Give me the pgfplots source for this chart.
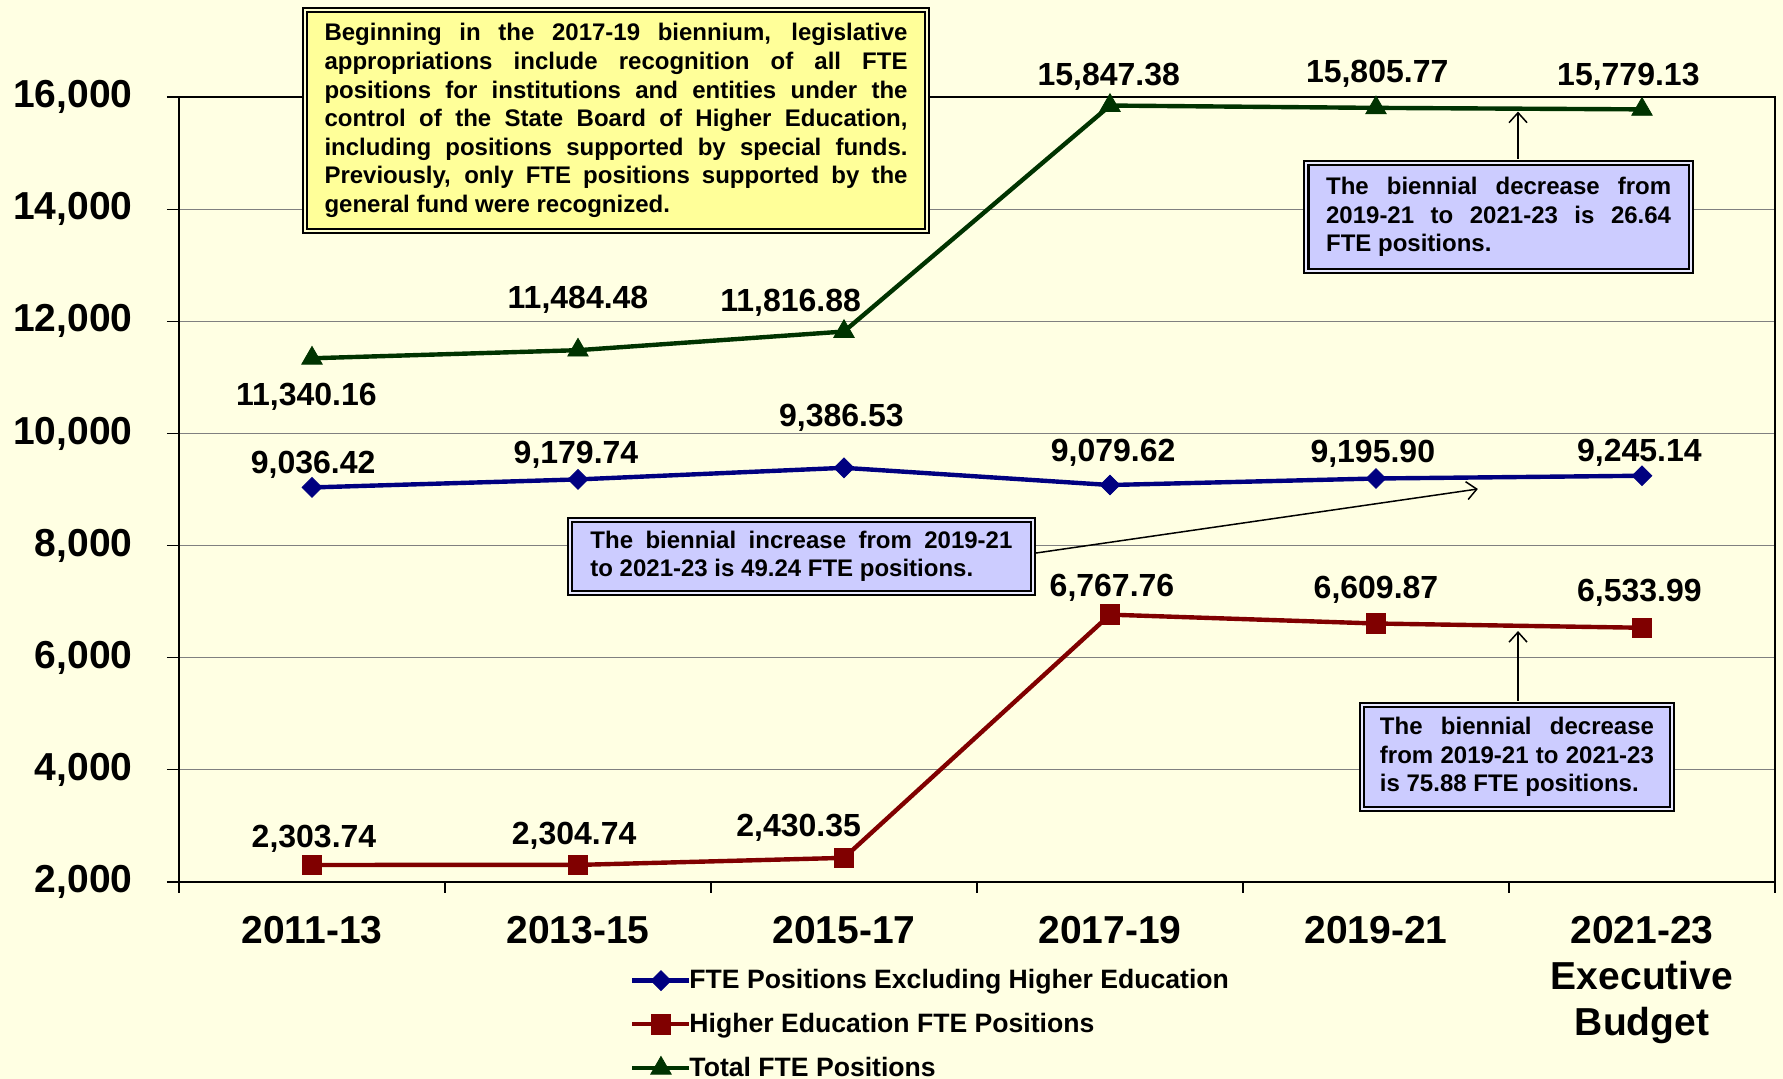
\documentclass[border=0pt]{standalone}
\usepackage{pgfplots}
\pgfplotsset{compat=1.18}
\usepackage{pgfplotstable}
\usepackage{fontspec}
\setmainfont{Liberation Sans}
\usetikzlibrary{arrows.meta}
\definecolor{bg}{HTML}{FFFFE3}
\definecolor{navyc}{HTML}{000080}
\definecolor{maroonc}{HTML}{800000}
\definecolor{greenc}{HTML}{003300}
\definecolor{yellowbox}{HTML}{FFFF99}
\definecolor{lilac}{HTML}{CCCCFF}

\pgfplotstableread{
x y lab dx dy
0 9036.42 9,036.42 0.6 11.4
1 9179.74 9,179.74 -1.0 12.5
2 9386.53 9,386.53 -1.3 25
3 9079.62 9,079.62 1.6 16
4 9195.90 9,195.90 -1.6 12.5
5 9245.14 9,245.14 -1.3 11.4
}\excl
\pgfplotstableread{
x y lab dx dy
0 2303.74 2,303.74 1.0 13
1 2304.74 2,304.74 -1.9 14.8
2 2430.35 2,430.35 -22.7 14.8
3 6767.76 6,767.76 1.0 13.6
4 6609.87 6,609.87 0 17
5 6533.99 6,533.99 -1.3 17.6
}\higher
\pgfplotstableread{
x y lab dx dy
0 11340.16 11,340.16 -2.8 -19.3
1 11484.48 11,484.48 0 25
2 11816.88 11,816.88 -26.7 14.2
3 15847.38 15,847.38 -0.6 14.2
4 15805.77 15,805.77 0.6 17
5 15779.13 15,779.13 -6.8 16.5
}\total

\tikzset{
  dbox/.style={draw=black, line width=1.1pt, double=white!55!#1, double distance=1pt,
    fill=#1, font=\bfseries\fontsize{12}{14.3}\selectfont, align=justify, inner ysep=0pt},
  labstyle/.style={anchor=center, font=\bfseries\fontsize{16}{19}\selectfont, text=black}
}

\begin{document}
\begin{tikzpicture}
\fill[bg] (-89.5pt,-98.5pt) rectangle (802pt,441pt);
\begin{axis}[
  at={(0,0)}, anchor=south west,
  scale only axis, width=798pt, height=392.5pt,
  xmin=-0.5, xmax=5.5, ymin=2000, ymax=16000,
  axis line style={black, line width=1pt},
  xtick={0,...,5},
  xticklabels={2011-13,2013-15,2015-17,2017-19,2019-21,{2021-23\\Executive\\Budget}},
  minor xtick={-0.5,0.5,...,5.5},
  major x tick style={draw=none},
  minor x tick style={black, line width=0.6pt},
  minor tick length=5.5pt,
  ytick={2000,4000,...,16000},
  scaled y ticks=false,
  major tick length=6pt,
  tick align=outside,
  xtick pos=bottom, ytick pos=left,
  ytick style={black, line width=0.6pt},
  ymajorgrids, grid style={color=gray, line width=0.6pt},
  /pgf/number format/.cd, fixed, 1000 sep={,}, assume math mode=true, /pgfplots/.cd,
  tick label style={font=\bfseries\fontsize{19.5}{23}\selectfont, text=black},
  xticklabel style={align=center, anchor=north, inner sep=0pt, yshift=-10.8pt},
  yticklabel style={anchor=east, inner sep=0pt, xshift=-17pt},
  clip=false,
  legend style={at={(axis description cs:0.2825,-0.111)}, anchor=north west, draw=none, fill=none,
    font=\bfseries\fontsize{13.3}{16}\selectfont, row sep=10.6pt, inner sep=0pt,
    nodes={inner sep=0pt}, /tikz/every odd column/.append style={column sep=-1.1pt}},
  legend cell align=left,
  legend image code/.code={\draw[#1, mark repeat=2, mark phase=2] plot coordinates {(0pt,0pt) (14.25pt,0pt) (28.5pt,0pt)};},
  nodes near coords, point meta=explicit symbolic,
  visualization depends on={\thisrow{dx}\as\dx},
  visualization depends on={\thisrow{dy}\as\dy},
  every node near coord/.append style={labstyle, xshift=\dx pt, yshift=\dy pt},
]
\addplot[color=navyc, line width=2.2pt, mark=square*, mark size=3.5pt, mark options={solid, fill=navyc, line width=0.4pt, rotate=45}]
  table[x=x, y=y, meta=lab] {\excl};
\addlegendentry{FTE Positions Excluding Higher Education}
\addplot[color=maroonc, line width=2.2pt, mark=square*, mark size=4.9pt, mark options={solid, fill=maroonc, line width=0.4pt}]
  table[x=x, y=y, meta=lab] {\higher};
\addlegendentry{Higher Education FTE Positions}
\addplot[color=greenc, line width=2.2pt, mark=triangle*, mark size=5.9pt, mark options={solid, fill=greenc, line width=0.4pt}]
  table[x=x, y=y, meta=lab] {\total};
\addlegendentry{Total FTE Positions}
\coordinate (yb) at (axis cs:1.143,15581);
\coordinate (b1) at (axis cs:4.461,13860);
\coordinate (b2) at (axis cs:1.840,7805);
\coordinate (b3) at (axis cs:4.530,4229);
\coordinate (a1s) at (axis cs:4.534,14900);
\coordinate (a1e) at (axis cs:4.534,15740);
\coordinate (a2s) at (axis cs:2.722,7867);
\coordinate (a2e) at (axis cs:4.383,9009);
\coordinate (a3s) at (axis cs:4.534,5230);
\coordinate (a3e) at (axis cs:4.534,6476);
\end{axis}
\draw[line width=0.75pt, -{Straight Barb[length=5pt,width=9pt]}] (a1s) -- (a1e);
\draw[line width=0.75pt, -{Straight Barb[length=5pt,width=9pt]}] (a2s) -- (a2e);
\draw[line width=0.75pt, -{Straight Barb[length=5pt,width=9pt]}] (a3s) -- (a3e);
\node[dbox=yellowbox, text width=291.5pt, inner xsep=9.65pt, minimum height=110.3pt] at (yb)
 {Beginning in the 2017-19 biennium, legislative\linebreak appropriations include recognition of all FTE\linebreak positions for institutions and entities under the\linebreak control of the State Board of Higher Education,\linebreak including positions supported by special funds.\linebreak Previously, only FTE positions supported by the\linebreak general fund were recognized.};
\node[dbox=lilac, text width=172.5pt, inner xsep=9.9pt, minimum height=53.8pt] at (b1)
 {The biennial decrease from\linebreak 2019-21 to 2021-23 is 26.64\linebreak FTE positions.};
\node[dbox=lilac, text width=211pt, inner xsep=10.15pt, minimum height=36.3pt] at (b2)
 {The biennial increase from 2019-21\linebreak to 2021-23 is 49.24 FTE positions.};
\node[dbox=lilac, text width=137pt, inner xsep=8.9pt, minimum height=51.8pt] at (b3)
 {The biennial decrease\linebreak from 2019-21 to 2021-23\linebreak is 75.88 FTE positions.};
\pgfresetboundingbox
\path[use as bounding box] (-89.5pt,-98.5pt) rectangle (802pt,441pt);
\end{tikzpicture}
\end{document}
